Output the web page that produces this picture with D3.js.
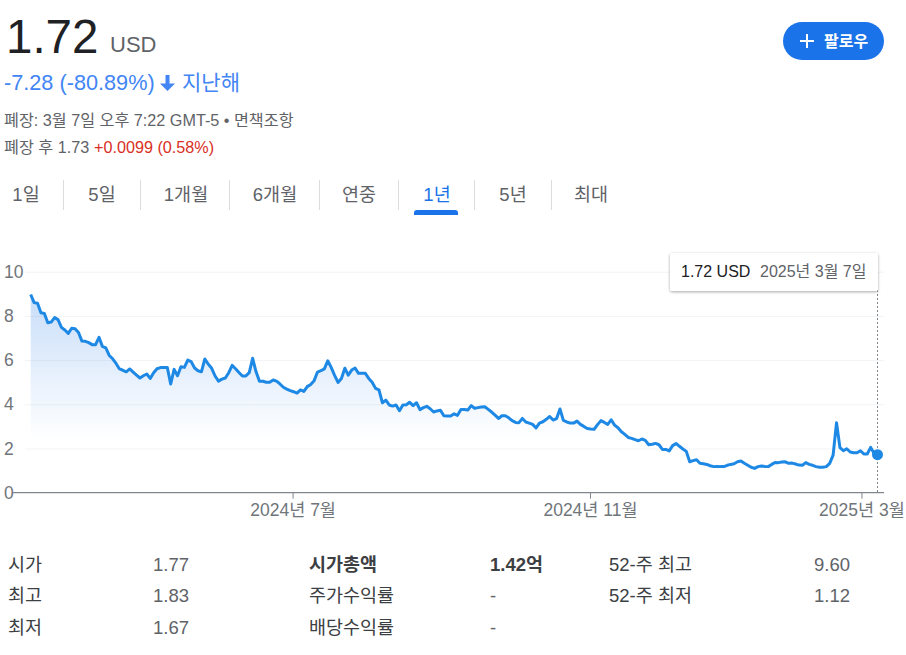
<!DOCTYPE html>
<html>
<head>
<meta charset="utf-8">
<script src="https://d3js.org/d3.v7.min.js"></script>
<style>
  html, body { margin: 0; padding: 0; background: #fff; overflow: hidden; }
  text { font-family: "Liberation Sans", "Noto Sans CJK KR", sans-serif; }
</style>
</head>
<body>
<svg id="my_svg" width="906" height="655"></svg>
<script>
// closing price per trading day
const prices = [
  8.97,8.6,8.57,8.14,8.11,7.69,7.72,7.92,7.83,7.48,7.36,7.21,7.44,7.42,7.25,6.86,6.85,6.79,6.7,6.7,
  7.03,6.62,6.55,6.21,6.06,5.85,5.6,5.54,5.47,5.6,5.46,5.32,5.19,5.29,5.37,5.17,5.43,5.61,5.66,5.66,
  5.67,4.92,5.58,5.29,5.7,5.67,6.0,5.93,5.64,5.52,5.47,6.05,5.82,5.63,5.28,5.05,5.14,5.19,5.43,5.76,
  5.61,5.44,5.28,5.28,5.43,6.08,5.47,5.04,5.04,5.0,5.0,5.1,5.05,4.92,4.77,4.69,4.62,4.57,4.51,4.65,
  4.58,4.8,4.9,5.07,5.46,5.52,5.6,5.97,5.67,5.31,4.99,5.17,5.63,5.32,5.55,5.64,5.4,5.4,5.4,5.17,
  5.0,4.72,4.65,4.07,4.19,3.97,3.92,3.97,3.71,3.97,3.98,4.09,3.94,4.07,3.76,3.85,3.91,3.8,3.65,3.7,
  3.73,3.48,3.47,3.47,3.57,3.5,3.76,3.76,3.74,3.94,3.82,3.85,3.88,3.89,3.77,3.65,3.51,3.36,3.48,3.48,
  3.39,3.26,3.18,3.17,3.36,3.2,3.15,3.09,2.93,3.15,3.21,3.32,3.45,3.29,3.35,3.79,3.27,3.2,3.15,3.15,
  3.24,3.09,3.0,2.9,2.88,2.87,3.08,3.26,3.18,3.09,3.3,3.06,2.94,2.76,2.64,2.5,2.46,2.4,2.35,2.43,
  2.37,2.17,2.19,2.23,2.17,1.96,1.96,1.89,2.13,2.23,2.1,1.98,1.87,1.4,1.45,1.49,1.33,1.31,1.28,1.22,
  1.18,1.19,1.18,1.18,1.24,1.28,1.31,1.4,1.43,1.33,1.24,1.15,1.1,1.18,1.21,1.19,1.18,1.28,1.37,1.36,
  1.39,1.4,1.33,1.34,1.3,1.25,1.24,1.36,1.28,1.24,1.18,1.15,1.15,1.18,1.33,1.7,3.17,2.04,1.9,1.99,
  1.84,1.81,1.81,1.9,1.75,1.75,2.05,1.78,1.72
];
const yTicks = [0, 2, 4, 6, 8, 10];
const xTickIndex = [76.7, 163.8, 243.3];
const xTickLabels = ['2024년 7월', '2024년 11월', '2025년 3월'];

const tabLabels = ['1일', '5일', '1개월', '6개월', '연중', '1년', '5년', '최대'];
const tabCenters = [26, 102, 186, 275, 359, 437, 513, 591];
const tabSeparators = [63.5, 140.5, 229.5, 319.5, 398.5, 474.5, 551.5];
const activeTab = '1년';

const statLabels = [['시가', '최고', '최저'], ['시가총액', '주가수익률', '배당수익률'], ['52-주 최고', '52-주 최저']];
const statValues = [['1.77', '1.83', '1.67'], ['1.42억', '-', '-'], ['9.60', '1.12']];
const statLabelX = [8, 309, 609];
const statValueX = [153, 490, 814];
const statRowY = [571, 602, 634];

const svg = d3.select('#my_svg');

function label(x, y, str, size, color, weight) {
  return svg.append('text').attr('x', x).attr('y', y).text(str)
    .attr('font-size', size).attr('fill', color).attr('font-weight', weight || 400);
}

//header
label(6, 53, '1.72', 47.5, '#202124');
label(110, 52, 'USD', 22, '#5f6368');
label(4, 90, '-7.28 (-80.89%)', 21.7, '#4285f4');
svg.append('path').attr('d', 'M165.5 75h4v8.5h5.5l-7.5 7.5-7.5-7.5h5.5z').attr('fill', '#4285f4');
label(182, 90, '지난해', 21, '#4285f4');
label(4, 126, '폐장: 3월 7일 오후 7:22 GMT-5 • 면책조항', 16.2, '#5f6368');
label(4, 153, '폐장 후 1.73', 16.2, '#5f6368');
label(94, 153, '+0.0099 (0.58%)', 16.2, '#d93025');

//follow button
svg.append('rect').attr('x', 783).attr('y', 22).attr('width', 101).attr('height', 38).attr('rx', 19).attr('fill', '#1a73e8');
svg.append('path').attr('d', 'M807 34v14M800 41h14').attr('stroke', '#fff').attr('stroke-width', 2);
label(824, 47, '팔로우', 16, '#fff', 700);

//range tabs
tabLabels.forEach(function (d, i) {
  label(tabCenters[i], 201, d, 18.5, d == activeTab ? '#1a73e8' : '#5f6368').attr('text-anchor', 'middle');
});
svg.selectAll('.sep').data(tabSeparators).enter().append('line').attr('class', 'sep')
  .attr('x1', d => d).attr('x2', d => d).attr('y1', 180).attr('y2', 210)
  .attr('stroke', '#dadce0');
svg.append('path').attr('d', 'M414 215v-2a3 3 0 0 1 3-3h38a3 3 0 0 1 3 3v2z').attr('fill', '#1a73e8');

//chart
const xs = d3.scaleLinear().domain([0, prices.length - 1]).range([30.7, 877.5]);
const ys = d3.scaleLinear().domain([0, 10]).range([492.7, 271.7]);

const defs = svg.append('defs');
const grad = defs.append('linearGradient').attr('id', 'areaFill')
  .attr('gradientUnits', 'userSpaceOnUse')
  .attr('x1', 0).attr('x2', 0).attr('y1', ys(9)).attr('y2', ys(2.4));
grad.append('stop').attr('offset', 0).attr('stop-color', '#1a73e8').attr('stop-opacity', 0.24);
grad.append('stop').attr('offset', 1).attr('stop-color', '#1a73e8').attr('stop-opacity', 0);
const blur = defs.append('filter').attr('id', 'tipShadow').attr('x', '-5%').attr('y', '-20%').attr('width', '110%').attr('height', '150%');
blur.append('feDropShadow').attr('dx', 0).attr('dy', 1).attr('stdDeviation', 1.6).attr('flood-color', '#000').attr('flood-opacity', 0.35);

const yAxis = svg.append('g').attr('transform', 'translate(25,0)')
  .call(d3.axisLeft(ys).tickValues(yTicks).tickSize(-859).tickFormat(d => d));
yAxis.select('.domain').remove();
yAxis.selectAll('.tick line').attr('stroke', d => d == 0 ? 'none' : '#f1f3f4');
yAxis.selectAll('.tick text').attr('x', -21).attr('text-anchor', 'start').attr('dy', '0.32em')
  .attr('font-size', 17.5).attr('fill', '#70757a').attr('font-family', null);

svg.append('path').datum(prices)
  .attr('fill', 'url(#areaFill)')
  .attr('d', d3.area().x((d, i) => xs(i)).y0(ys(0)).y1(d => ys(d)));

const xAxis = svg.append('g').attr('transform', 'translate(0,' + ys(0) + ')')
  .call(d3.axisBottom(xs).tickValues(xTickIndex).tickSize(6).tickPadding(5)
    .tickFormat((d, i) => xTickLabels[i]));
xAxis.select('.domain').attr('d', 'M13,0H884').attr('stroke', '#80868b').attr('stroke-width', 1.2);
xAxis.selectAll('.tick line').attr('stroke', '#80868b');
xAxis.selectAll('.tick text').attr('font-size', 17.5).attr('fill', '#70757a').attr('font-family', null);

svg.append('path').datum(prices)
  .attr('fill', 'none').attr('stroke', '#1e88e5').attr('stroke-width', 3).attr('stroke-linejoin', 'round')
  .attr('d', d3.line().x((d, i) => xs(i)).y(d => ys(d)));

//cursor line, dot and tooltip for the last close
const lastX = xs(prices.length - 1);
const lastY = ys(prices[prices.length - 1]);
svg.append('line').attr('x1', lastX).attr('x2', lastX).attr('y1', 270).attr('y2', ys(0))
  .attr('stroke', '#80868b').attr('stroke-dasharray', '2,2');
svg.append('circle').attr('cx', lastX).attr('cy', lastY).attr('r', 5.5).attr('fill', '#1e88e5');
svg.append('rect').attr('x', 670).attr('y', 253).attr('width', 208).attr('height', 38).attr('rx', 2)
  .attr('fill', '#fff').attr('filter', 'url(#tipShadow)');
label(681, 277, '1.72 USD', 16, '#202124');
label(760, 277, '2025년 3월 7일', 16, '#5f6368');

//stats table
statLabels.forEach(function (col, c) {
  col.forEach(function (d, r) {
    const bold = d == '시가총액';
    label(statLabelX[c], statRowY[r], d, 18.5, '#3c4043', bold ? 700 : 400);
    label(statValueX[c], statRowY[r], statValues[c][r], 18.5, bold ? '#3c4043' : '#5f6368', bold ? 700 : 400);
  });
});
</script>
</body>
</html>
